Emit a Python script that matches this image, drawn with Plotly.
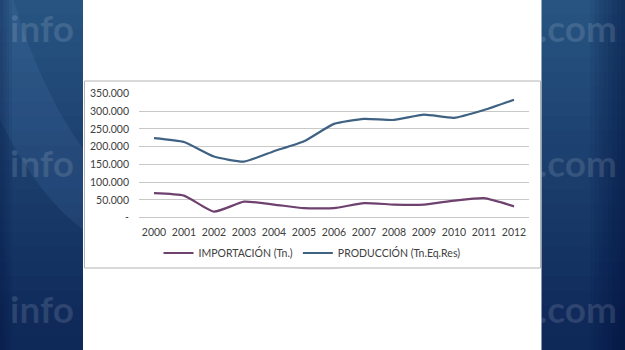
import plotly.graph_objects as go

W, H = 625, 350

years = ["2000", "2001", "2002", "2003", "2004", "2005", "2006",
         "2007", "2008", "2009", "2010", "2011", "2012"]
importacion = [69000, 62000, 17000, 45000, 37000, 27000, 27000,
               41000, 37000, 37000, 48000, 55000, 32000]
produccion = [224000, 213000, 172000, 158000, 187000, 215000, 264000,
              278000, 275000, 290000, 281000, 303000, 332000]
ytick_vals = [0, 50000, 100000, 150000, 200000, 250000, 300000, 350000]
ytick_text = ["-", "50.000", "100.000", "150.000", "200.000", "250.000",
              "300.000", "350.000"]

fig = go.Figure()

# background gradient strips (full-figure coordinate system on x/y)
top = (40, 84, 130)
bot = (14, 40, 88)
n = 24
shapes = []
for i in range(n):
    t = i / (n - 1)
    c = tuple(int(top[k] + (bot[k] - top[k]) * t) for k in range(3))
    y1 = H + 20 if i == 0 else H - i * H / n + 0.5
    y0 = -20 if i == n - 1 else H - (i + 1) * H / n
    shapes.append(dict(type="rect", xref="x", yref="y", x0=-20, x1=W + 20,
                       y0=y0, y1=y1,
                       fillcolor="rgb(%d,%d,%d)" % c, line=dict(width=0),
                       layer="below"))
# lighter diagonal swoosh at top-left
shapes.append(dict(type="path", xref="x", yref="y",
                   path="M 0,%g L 12,%g Q 40,%g 84,%g L 84,%g Q 40,%g 0,%g Z" % (
                       H + 5, H + 5, H - 90, H - 150, H - 230, H - 200, H - 120),
                   fillcolor="rgba(120,170,230,0.10)", line=dict(width=0), layer="below"))
# gradual darker outer edges
for j in range(8):
    shapes.append(dict(type="rect", xref="x", yref="y", x0=590 + j * 4.5, x1=W + 20,
                       y0=-20, y1=H + 20, fillcolor="rgba(5,20,50,0.07)",
                       line=dict(width=0), layer="below"))
for j in range(4):
    shapes.append(dict(type="rect", xref="x", yref="y", x0=-20, x1=12 - j * 3,
                       y0=-20, y1=H + 20, fillcolor="rgba(5,20,50,0.07)",
                       line=dict(width=0), layer="below"))

# white panel
fig.add_trace(go.Scatter(x=[83, 541.5, 541.5, 83, 83], y=[-20, -20, H + 20, H + 20, -20],
                         fill="toself", fillcolor="white", mode="lines", line=dict(width=0),
                         hoverinfo="skip", showlegend=False, xaxis="x", yaxis="y"))
# chart border
fig.add_trace(go.Scatter(x=[84.5, 540.5, 540.5, 84.5, 84.5],
                         y=[H - 81, H - 81, H - 268, H - 268, H - 81], mode="lines",
                         line=dict(width=1, color="#b4b4b4"),
                         hoverinfo="skip", showlegend=False, xaxis="x", yaxis="y"))

# data
fig.add_trace(go.Scatter(x=years, y=importacion, name="IMPORTACIÓN (Tn.)", mode="lines",
                         line=dict(color="#6e416f", width=2.2, shape="spline", smoothing=0.5),
                         xaxis="x2", yaxis="y2"))
fig.add_trace(go.Scatter(x=years, y=produccion, name="PRODUCCIÓN (Tn.Eq.Res)", mode="lines",
                         line=dict(color="#3f6283", width=2.2, shape="spline", smoothing=0.5),
                         xaxis="x2", yaxis="y2"))

# watermark text, clipped to the blue side columns
wm_y = [H - 33, H - 168, H - 314]
wm_font = dict(family="Lato", size=37, color="rgba(255,255,255,0.12)")
fig.add_trace(go.Scatter(x=[10] * 3, y=wm_y, mode="text", text=["<b>info</b>"] * 3,
                         textposition="middle right", hoverinfo="skip", showlegend=False,
                         textfont=wm_font, xaxis="x3", yaxis="y3", cliponaxis=True))
fig.add_trace(go.Scatter(x=[617] * 3, y=wm_y, mode="text", text=["<b>k.com</b>"] * 3,
                         textposition="middle left", hoverinfo="skip", showlegend=False,
                         textfont=wm_font, xaxis="x4", yaxis="y4", cliponaxis=True))

x0, x1 = 139, 529
y_top, y_bot = 93.3, 217.7
hidden = dict(visible=False, fixedrange=True, automargin=False, showgrid=False, zeroline=False)
fig.update_layout(
    template="none",
    width=W, height=H,
    margin=dict(l=0, r=0, t=0, b=0, pad=0, autoexpand=False),
    paper_bgcolor="rgb(28,66,112)",
    plot_bgcolor="rgba(0,0,0,0)",
    shapes=shapes,
    font=dict(family="Lato", size=10.5, color="#404040"),
    xaxis=dict(domain=[0, 1], range=[0, W], **hidden),
    yaxis=dict(domain=[0, 1], range=[0, H], **hidden),
    xaxis3=dict(domain=[0, 83 / W], range=[0, 83], anchor="y3", **hidden),
    yaxis3=dict(domain=[0, 1], range=[0, H], anchor="x3", **hidden),
    xaxis4=dict(domain=[541.5 / W, 1], range=[541.5, W], anchor="y4", **hidden),
    yaxis4=dict(domain=[0, 1], range=[0, H], anchor="x4", **hidden),
    xaxis2=dict(domain=[x0 / W, x1 / W], anchor="y2", type="category",
                range=[-0.5, 12.5], showgrid=False, showline=False, ticks="",
                zeroline=False, automargin=False,
                ticklabelstandoff=7, tickfont=dict(size=10.5, color="#404040")),
    yaxis2=dict(domain=[(H - y_bot) / H, (H - y_top) / H], anchor="x2",
                range=[0, 350000], tickvals=ytick_vals, ticktext=ytick_text,
                showgrid=True, gridcolor="#c8c8c8", gridwidth=1,
                zeroline=True, zerolinecolor="#c8c8c8", zerolinewidth=1,
                showline=False, ticks="", ticklabelstandoff=9, automargin=False,
                tickfont=dict(size=10.5, color="#404040")),
    legend=dict(orientation="h", x=312 / W, xanchor="center", y=(H - 253) / H,
                yanchor="middle", bgcolor="rgba(0,0,0,0)",
                font=dict(size=10.5, color="#404040"),
                itemwidth=30, tracegroupgap=0),
    showlegend=True,
)

fig.write_html("out.html")
